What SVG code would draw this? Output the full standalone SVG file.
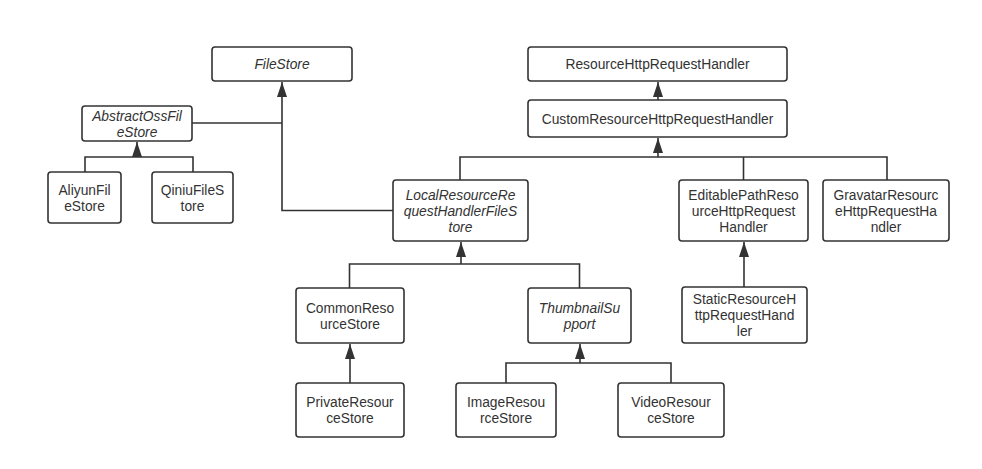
<svg xmlns="http://www.w3.org/2000/svg" width="982" height="469" viewBox="0 0 982 469">
  <style>
    .box { fill: #ffffff; stroke: #333333; stroke-width: 1.6; }
    .edge { fill: none; stroke: #333333; stroke-width: 1.6; }
    text { font-family: "Liberation Sans", Arial, sans-serif; font-size: 13.8px; fill: #333333; text-anchor: middle; }
    .abs { font-style: italic; }
  </style>
  <defs>
    <marker id="inherit" markerUnits="userSpaceOnUse" markerWidth="16" markerHeight="12" refX="15" refY="5" orient="auto">
      <path d="M0,0 L15,5 L0,10 z" fill="#333333"/>
    </marker>
  </defs>
  <rect width="982" height="469" fill="#ffffff"/>

  <!-- generalization connectors -->
  <g id="connectors">
    <path class="edge" d="M393,210.5 H282 V82" marker-end="url(#inherit)"/>
    <path class="edge" d="M192,123 H282"/>
    <path class="edge" d="M85,172 V157 H193 V172"/>
    <path class="edge" d="M137,157 V142" marker-end="url(#inherit)"/>
    <path class="edge" d="M658,100 V82" marker-end="url(#inherit)"/>
    <path class="edge" d="M460,180 V157 H887 V180"/>
    <path class="edge" d="M743.5,180 V157"/>
    <path class="edge" d="M658,157 V138" marker-end="url(#inherit)"/>
    <path class="edge" d="M744,287 V242" marker-end="url(#inherit)"/>
    <path class="edge" d="M349.5,288 V264 H579.5 V288"/>
    <path class="edge" d="M461,264 V242" marker-end="url(#inherit)"/>
    <path class="edge" d="M350,383 V344" marker-end="url(#inherit)"/>
    <path class="edge" d="M506,383 V363 H671 V383"/>
    <path class="edge" d="M580,363 V344" marker-end="url(#inherit)"/>
  </g>

  <g id="FileStore">
    <rect class="box" x="212" y="47" width="140" height="34" rx="3"/>
    <text class="abs" x="282" y="69">FileStore</text>
  </g>
  <g id="AbstractOssFileStore">
    <rect class="box" x="82" y="106" width="110" height="35" rx="3"/>
    <text class="abs" x="137" y="120.5">AbstractOssFil</text>
    <text class="abs" x="137" y="136.5">eStore</text>
  </g>
  <g id="AliyunFileStore">
    <rect class="box" x="48" y="172" width="73" height="51" rx="3"/>
    <text x="84.5" y="194.5">AliyunFil</text>
    <text x="84.5" y="210.5">eStore</text>
  </g>
  <g id="QiniuFileStore">
    <rect class="box" x="152" y="172" width="81" height="51" rx="3"/>
    <text x="192.5" y="194.5">QiniuFileS</text>
    <text x="192.5" y="210.5">tore</text>
  </g>
  <g id="ResourceHttpRequestHandler">
    <rect class="box" x="528" y="47" width="259" height="34" rx="3"/>
    <text x="657.5" y="69">ResourceHttpRequestHandler</text>
  </g>
  <g id="CustomResourceHttpRequestHandler">
    <rect class="box" x="528" y="100" width="259" height="37" rx="3"/>
    <text x="657.5" y="123.5">CustomResourceHttpRequestHandler</text>
  </g>
  <g id="LocalResourceRequestHandlerFileStore">
    <rect class="box" x="393" y="180" width="135" height="61" rx="3"/>
    <text class="abs" x="460.5" y="199.5">LocalResourceRe</text>
    <text class="abs" x="460.5" y="215.5">questHandlerFileS</text>
    <text class="abs" x="460.5" y="231.5">tore</text>
  </g>
  <g id="EditablePathResourceHttpRequestHandler">
    <rect class="box" x="679" y="180" width="129" height="61" rx="3"/>
    <text x="743.5" y="199.5">EditablePathReso</text>
    <text x="743.5" y="215.5">urceHttpRequest</text>
    <text x="743.5" y="231.5">Handler</text>
  </g>
  <g id="GravatarResourceHttpRequestHandler">
    <rect class="box" x="823" y="180" width="126" height="61" rx="3"/>
    <text x="886" y="199.5">GravatarResourc</text>
    <text x="886" y="215.5">eHttpRequestHa</text>
    <text x="886" y="231.5">ndler</text>
  </g>
  <g id="StaticResourceHttpRequestHandler">
    <rect class="box" x="682" y="287" width="125" height="56" rx="3"/>
    <text x="744.5" y="304">StaticResourceH</text>
    <text x="744.5" y="320">ttpRequestHand</text>
    <text x="744.5" y="336">ler</text>
  </g>
  <g id="CommonResourceStore">
    <rect class="box" x="296" y="288" width="108" height="55" rx="3"/>
    <text x="350" y="312.5">CommonReso</text>
    <text x="350" y="328.5">urceStore</text>
  </g>
  <g id="ThumbnailSupport">
    <rect class="box" x="528" y="288" width="103" height="55" rx="3"/>
    <text class="abs" x="579.5" y="312.5">ThumbnailSu</text>
    <text class="abs" x="579.5" y="328.5">pport</text>
  </g>
  <g id="PrivateResourceStore">
    <rect class="box" x="296" y="383" width="108" height="54" rx="3"/>
    <text x="350" y="407">PrivateResour</text>
    <text x="350" y="423">ceStore</text>
  </g>
  <g id="ImageResourceStore">
    <rect class="box" x="456" y="383" width="100" height="54" rx="3"/>
    <text x="506" y="407">ImageResou</text>
    <text x="506" y="423">rceStore</text>
  </g>
  <g id="VideoResourceStore">
    <rect class="box" x="618" y="383" width="106" height="54" rx="3"/>
    <text x="671" y="407">VideoResour</text>
    <text x="671" y="423">ceStore</text>
  </g>
</svg>
